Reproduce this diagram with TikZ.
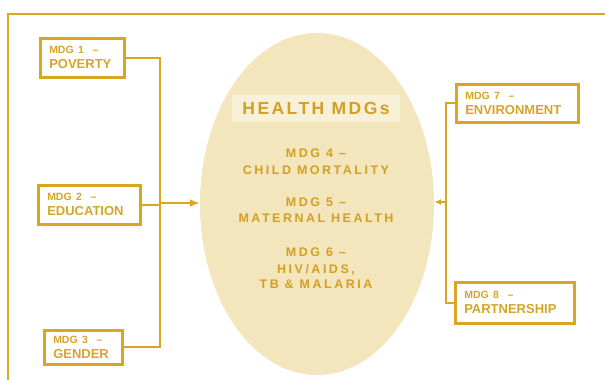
\documentclass[tikz,border=0pt]{standalone}
\usepackage{fontspec}
\setmainfont{Liberation Sans}
\newfontfamily\ellfont[LetterSpace=20]{Liberation Sans}
\newfontfamily\headfont[LetterSpace=14]{Liberation Sans}
\usetikzlibrary{shapes.geometric,arrows.meta}
\definecolor{gold}{RGB}{218,165,32}
\definecolor{boxtext}{RGB}{212,166,40}
\definecolor{ellfill}{RGB}{243,229,188}
\definecolor{bannerfill}{RGB}{249,240,216}
\definecolor{elltext}{RGB}{210,160,34}
\tikzset{
  mdgbox/.style={draw=gold, line width=2.5pt, fill=white, inner xsep=9pt, inner ysep=0pt,
    anchor=north west, align=left, text=boxtext, font=\bfseries\fontsize{13}{15}\selectfont},
  conn/.style={draw=gold, line width=2pt},
  arrl/.style={conn, -{Latex[length=10pt,width=8pt]}},
  arrr/.style={conn, -{Latex[length=7pt,width=6pt]}},
  elline/.style={anchor=base, text=elltext, font=\ellfont\bfseries\fontsize{12.5}{15}\selectfont, inner sep=0pt},
  frameline/.style={draw=gold, line width=2.5pt}
}
\newcommand{\mdgfirst}[1]{{\fontsize{10.5}{15}\selectfont #1}}
\begin{document}
\begin{tikzpicture}[x=1pt,y=-1pt]
\useasboundingbox (0,0) rectangle (605,380);
\fill[white] (0,0) rectangle (605,380);
% frame
\draw[frameline] (8,380) -- (8,14) -- (605,14);
% ellipse
\node[ellipse, fill=ellfill, minimum width=234pt, minimum height=342pt, inner sep=0pt] (ell) at (317,204) {};
\node[fill=bannerfill, minimum width=168pt, minimum height=27pt, inner sep=0pt,
  text=elltext, font=\headfont\bfseries\fontsize{17.5}{20}\selectfont] (banner) at (316,108.5) {HEALTH MDGs};
\node[elline] (m4a) at (316,157) {MDG 4 –};
\node[elline] (m4b) at (316,174) {CHILD MORTALITY};
\node[elline] (m5a) at (316,206) {MDG 5 –};
\node[elline] (m5b) at (316,222) {MATERNAL HEALTH};
\node[elline] (m6a) at (316,256) {MDG 6 –};
\node[elline] (m6b) at (316,273) {HIV/AIDS,};
\node[elline] (m6c) at (316,288) {TB \& MALARIA};
% boxes
\node[mdgbox, text width=66pt, minimum height=39pt] (b1) at (39,37) {\mdgfirst{MDG 1 \ –}\\POVERTY};
\node[mdgbox, text width=84pt, minimum height=39pt] (b2) at (37,184) {\mdgfirst{MDG 2 \ –}\\EDUCATION};
\node[mdgbox, text width=60pt, minimum height=34pt] (b3) at (43,329) {\mdgfirst{MDG 3 \ –}\\GENDER};
\node[mdgbox, text width=104pt, minimum height=38pt] (b7) at (455,83) {\mdgfirst{MDG 7 \ –}\\ENVIRONMENT};
\node[mdgbox, text width=101pt, minimum height=41pt] (b8) at (454,281) {\mdgfirst{MDG 8 \ –}\\PARTNERSHIP};
% connectors left
\coordinate (lj) at (160,203);
\draw[conn] (b1.east) -| (lj);
\draw[conn] (b3.east) -| (lj);
\draw[conn] (b2.east) -- (b2.east -| lj);
\draw[arrl] (lj) -- (lj -| ell.west);
% connectors right
\coordinate (rj) at (446,202);
\draw[conn] (b7.west) -| (rj);
\draw[conn] (b8.west) -| (rj);
\draw[arrr] (rj) -- (rj -| ell.east);
\end{tikzpicture}
\end{document}
